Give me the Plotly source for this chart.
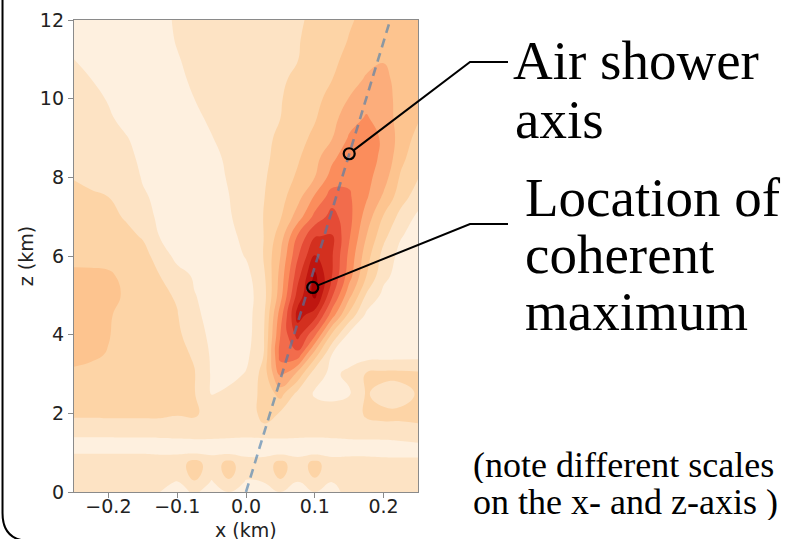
import plotly.graph_objects as go

# ---- field samples: radio footprint level (band index) on an x-z grid ----
x_km = [-0.25, -0.225, -0.2, -0.175, -0.15, -0.125, -0.1, -0.075, -0.05, -0.025,
        0.0, 0.025, 0.05, 0.075, 0.1, 0.125, 0.15, 0.175, 0.2, 0.225, 0.25]
z_km = [0.0, 0.25, 0.5, 0.75, 1.0, 1.25, 1.5, 1.75, 2.0, 2.5, 3.0, 3.5, 4.0, 4.5,
        5.0, 5.5, 6.0, 6.5, 7.0, 7.5, 8.0, 8.5, 9.0, 9.5, 10.0, 10.5, 11.0, 11.5, 12.0]

level = [
    [1.3, 1.3, 1.3, 1.3, 1.2, 1.0, 0.75, 1.1, 0.75, 1.0, 0.8, 0.85, 1.0, 0.8, 1.0, 0.9, 1.1, 1.3, 1.3, 1.3, 1.3],
    [1.35, 1.35, 1.35, 1.35, 1.3, 1.2, 0.95, 1.9, 0.9, 1.8, 0.9, 1.0, 1.8, 0.95, 1.7, 1.0, 1.25, 1.35, 1.35, 1.35, 1.35],
    [1.4, 1.4, 1.4, 1.4, 1.4, 1.35, 1.3, 2.5, 1.35, 2.4, 1.3, 1.3, 2.4, 1.3, 2.35, 1.3, 1.35, 1.4, 1.4, 1.4, 1.4],
    [1.4, 1.4, 1.4, 1.4, 1.4, 1.4, 1.45, 2.4, 1.45, 2.3, 1.35, 1.4, 2.3, 1.4, 2.3, 1.4, 1.4, 1.4, 1.35, 1.3, 1.3],
    [0.95, 0.95, 0.95, 0.95, 0.95, 0.9, 0.9, 0.85, 0.85, 0.8, 0.75, 0.7, 0.7, 0.7, 0.7, 0.7, 0.75, 0.75, 0.7, 0.7, 0.7],
    [0.6, 0.6, 0.6, 0.6, 0.6, 0.6, 0.65, 0.7, 0.7, 0.65, 0.6, 0.6, 0.6, 0.6, 0.6, 0.65, 0.7, 0.75, 0.8, 0.9, 1.0],
    [1.3, 1.3, 1.3, 1.35, 1.35, 1.4, 1.45, 1.5, 1.45, 1.4, 1.35, 1.45, 1.5, 1.4, 1.35, 1.4, 1.5, 1.5, 1.45, 1.45, 1.5],
    [1.75, 1.75, 1.8, 1.8, 1.85, 1.9, 1.7, 1.8, 1.6, 1.5, 1.5, 2.05, 1.7, 1.5, 1.5, 1.6, 1.8, 1.9, 1.95, 1.95, 2.0],
    [2.2, 2.2, 2.2, 2.2, 2.15, 2.1, 2.1, 2.15, 1.6, 1.4, 1.6, 2.2, 1.95, 1.5, 1.4, 1.3, 1.6, 2.1, 2.2, 2.2, 2.3],
    [2.5, 2.45, 2.4, 2.35, 2.3, 2.2, 2.15, 2.05, 0.95, 1.2, 1.5, 2.25, 3.36, 1.7, 0.9, 0.8, 0.9, 2.1, 1.6, 1.6, 2.1],
    [2.85, 2.75, 2.5, 2.45, 2.4, 2.3, 2.25, 2.05, 0.9, 0.7, 1.06, 2.33, 5.3, 3.71, 1.38, 0.8, 1.2, 2.1, 2.3, 2.3, 2.2],
    [3.25, 3.15, 2.95, 2.6, 2.4, 2.3, 2.25, 1.9, 0.85, 0.5, 0.75, 1.92, 6.4, 6.67, 3.5, 1.0, 0.6, 0.5, 0.5, 0.55, 0.6],
    [3.35, 3.3, 3.05, 2.65, 2.45, 2.3, 2.15, 1.6, 0.7, 0.5, 0.6, 1.78, 6.0, 8.39, 6.2, 2.8, 0.75, 0.5, 0.5, 0.55, 0.6],
    [3.4, 3.35, 3.1, 2.7, 2.45, 2.25, 2.05, 1.2, 0.7, 0.5, 0.6, 1.67, 5.5, 9.4, 8.5, 5.5, 2.71, 0.8, 0.55, 0.55, 0.6],
    [3.4, 3.4, 3.25, 2.9, 2.5, 2.2, 1.9, 1.05, 0.6, 0.5, 0.6, 1.5, 4.6, 8.4, 10.3, 7.17, 4.33, 1.86, 0.75, 0.55, 0.6],
    [3.3, 3.3, 3.2, 2.7, 2.35, 2.0, 1.5, 0.85, 0.55, 0.5, 0.7, 1.71, 4.33, 7.6, 10.24, 8.0, 5.43, 3.0, 1.25, 0.6, 0.6],
    [2.6, 2.55, 2.5, 2.4, 2.2, 1.75, 0.6, 0.5, 0.5, 0.6, 1.06, 2.0, 4.0, 6.86, 9.04, 8.09, 5.75, 3.43, 1.64, 0.7, 0.6],
    [2.45, 2.4, 2.3, 2.15, 1.95, 0.95, 0.6, 0.5, 0.5, 0.75, 1.25, 1.96, 3.5, 6.11, 7.95, 8.1, 6.11, 4.0, 2.27, 1.06, 0.6],
    [2.4, 2.3, 2.15, 1.95, 1.3, 0.85, 0.6, 0.5, 0.55, 0.9, 1.43, 2.0, 2.9, 4.45, 6.3, 7.4, 6.31, 4.56, 2.92, 1.67, 0.8],
    [2.3, 2.15, 2.0, 1.6, 1.08, 0.85, 0.6, 0.5, 0.6, 0.98, 1.46, 1.94, 2.65, 3.63, 5.13, 6.5, 6.13, 5.13, 3.82, 2.44, 1.5],
    [1.95, 1.75, 1.6, 1.35, 0.95, 0.7, 0.55, 0.55, 0.7, 1.07, 1.48, 1.88, 2.44, 3.15, 4.0, 5.41, 5.8, 5.31, 4.45, 2.85, 2.05],
    [1.55, 1.5, 1.4, 1.2, 0.85, 0.6, 0.55, 0.6, 0.8, 1.14, 1.48, 1.82, 2.27, 2.87, 3.65, 4.77, 5.65, 5.34, 4.82, 3.31, 2.3],
    [1.5, 1.45, 1.3, 1.05, 0.75, 0.6, 0.6, 0.7, 0.97, 1.26, 1.5, 1.81, 2.14, 2.66, 3.22, 3.96, 5.12, 5.29, 4.9, 3.55, 2.7],
    [1.45, 1.35, 1.1, 0.8, 0.6, 0.6, 0.7, 0.85, 1.12, 1.34, 1.56, 1.78, 2.0, 2.47, 2.92, 3.64, 4.6, 5.1, 4.53, 3.6, 3.1],
    [1.4, 1.2, 0.95, 0.7, 0.6, 0.65, 0.8, 1.0, 1.2, 1.39, 1.58, 1.76, 1.95, 2.33, 2.75, 3.3, 4.04, 4.65, 4.35, 3.7, 3.3],
    [1.3, 1.0, 0.7, 0.6, 0.65, 0.75, 0.9, 1.08, 1.25, 1.41, 1.57, 1.73, 1.89, 2.15, 2.56, 2.98, 3.55, 4.11, 4.2, 3.7, 3.4],
    [1.0, 0.85, 0.7, 0.7, 0.75, 0.85, 0.97, 1.12, 1.27, 1.41, 1.55, 1.69, 1.83, 1.98, 2.38, 2.8, 3.24, 3.68, 3.95, 3.75, 3.45],
    [0.6, 0.6, 0.6, 0.65, 0.7, 0.85, 1.03, 1.16, 1.3, 1.42, 1.55, 1.68, 1.81, 1.95, 2.24, 2.64, 3.04, 3.4, 3.78, 3.7, 3.45],
    [0.5, 0.5, 0.5, 0.6, 0.7, 0.85, 1.07, 1.19, 1.31, 1.43, 1.55, 1.67, 1.78, 1.92, 2.12, 2.51, 2.91, 3.21, 3.49, 3.55, 3.45],
]

band_colors = ["#fef0df", "#fde3c4", "#fdd4a6", "#fdc48f", "#fcad7b", "#fb8d5c",
               "#f26c4c", "#e54b36", "#d3301f", "#bf1610", "#a80202"]

# shower axis through the impact point, and two marked points on it
axis_x = [0.0, 0.2096]
axis_z = [0.0, 12.0]
points_x = [0.15, 0.097]
points_z = [8.6, 5.2]

x_ticks = [-0.2, -0.1, 0.0, 0.1, 0.2]
x_ticktext = ["\u22120.2", "\u22120.1", "0.0", "0.1", "0.2"]
z_ticks = [0, 2, 4, 6, 8, 10, 12]

# ---- page geometry (pixels) ----
W, H = 790, 539
L, R, T, B = 74, 418, 20, 492
XR = (-0.25, 0.25)
ZR = (0.0, 12.0)


def paper_x(px):
    return (px - L) / (R - L)


def paper_y(py):
    return (B - py) / (B - T)


def data_to_px(x, z):
    return (L + (x - XR[0]) / (XR[1] - XR[0]) * (R - L),
            B - (z - ZR[0]) / (ZR[1] - ZR[0]) * (B - T))


n = len(band_colors)
colorscale = [[i / (n - 1), c] for i, c in enumerate(band_colors)]

fig = go.Figure()
fig.add_trace(go.Contour(
    x=x_km, y=z_km, z=level,
    colorscale=colorscale,
    contours=dict(start=1, end=10, size=1, coloring="fill", showlines=False),
    line=dict(width=0, smoothing=1.3),
    showscale=False, hoverinfo="skip",
))
fig.add_trace(go.Scatter(
    x=axis_x, y=axis_z, mode="lines",
    line=dict(color="rgba(70,125,175,0.62)", width=2.6, dash="9px,6px"),
    hoverinfo="skip", showlegend=False,
))
fig.add_trace(go.Scatter(
    x=points_x, y=points_z, mode="markers",
    marker=dict(symbol="circle-open", size=11, color="black", line=dict(width=2.2)),
    hoverinfo="skip", showlegend=False,
))

# leader lines: from the edge of each marker to an elbow, then across to the label
elbows = [(470, 62), (470, 224)]
line_end_x = 508
r_marker = 5.5
shapes = []
for (mx, mz), (ex, ey) in zip(zip(points_x, points_z), elbows):
    cx, cy = data_to_px(mx, mz)
    dx, dy = ex - cx, ey - cy
    d = (dx * dx + dy * dy) ** 0.5
    sx, sy = cx + dx / d * r_marker, cy + dy / d * r_marker
    path = "M {:.4f},{:.4f} L {:.4f},{:.4f} L {:.4f},{:.4f}".format(
        paper_x(sx), paper_y(sy), paper_x(ex), paper_y(ey),
        paper_x(line_end_x), paper_y(ey))
    shapes.append(dict(type="path", xref="paper", yref="paper", path=path,
                       line=dict(color="black", width=2)))

# rounded slide frame: left edge and bottom-left corner
fx, fb, rad = 2.5, 541, 28
frame = ("M {:.4f},{:.4f} L {:.4f},{:.4f} Q {:.4f},{:.4f} {:.4f},{:.4f} L {:.4f},{:.4f}").format(
    paper_x(fx), paper_y(-5), paper_x(fx), paper_y(fb - rad),
    paper_x(fx), paper_y(fb), paper_x(fx + rad), paper_y(fb),
    paper_x(W + 5), paper_y(fb))
shapes.append(dict(type="path", xref="paper", yref="paper", path=frame,
                   line=dict(color="black", width=2)))

# slide text: (text, left px, vertical centre px, font px, box height px)
serif = "Liberation Serif, Times New Roman, serif"
labels = [
    ("Air shower", 513, 60, 55, 58),
    ("axis", 515, 119, 55, 58),
    ("Location of", 525, 197, 55, 56),
    ("coherent", 525, 254, 55, 56),
    ("maximum", 525, 311, 55, 56),
    ("(note different scales", 473, 465, 36, 36),
    ("on the x- and z-axis )", 473, 502, 36, 36),
]
annotations = []
for text, lx, ly, fs, bh in labels:
    annotations.append(dict(
        text=text, xref="paper", yref="paper", x=paper_x(lx), y=paper_y(ly),
        xanchor="left", yanchor="middle", showarrow=False,
        borderpad=0, borderwidth=0, height=bh,
        font=dict(family=serif, size=fs, color="black"),
    ))

sans = "DejaVu Sans, Verdana, sans-serif"
# x-axis title sits in the bottom strip of the page
annotations.append(dict(
    text="x (km)", xref="paper", yref="paper", x=0.5, y=paper_y(529),
    xanchor="center", yanchor="middle", showarrow=False,
    borderpad=0, borderwidth=0, height=19,
    font=dict(family=sans, size=19, color="#222222"),
))

axis_style = dict(
    showgrid=False, zeroline=False, showline=True, mirror=True, automargin=False,
    linecolor="#8a8a8a", linewidth=1.3,
    ticks="outside", ticklen=5, tickwidth=1.3, tickcolor="#8a8a8a",
    tickfont=dict(family=sans, size=19, color="#222222"),
)

fig.update_layout(
    width=W, height=H,
    margin=dict(l=L, r=W - R, t=T, b=H - B, pad=0, autoexpand=False),
    paper_bgcolor="white", plot_bgcolor="white",
    font=dict(family=sans, size=19, color="#222222"),
    showlegend=False,
    xaxis=dict(range=list(XR), tickvals=x_ticks, ticktext=x_ticktext,
               ticklabelstandoff=-8, **axis_style),
    yaxis=dict(range=list(ZR), tickvals=z_ticks,
               title=dict(text="z (km)", font=dict(family=sans, size=19, color="#222222"),
                          standoff=1),
               **axis_style),
    shapes=shapes,
    annotations=annotations,
)

fig.write_html("out.html")
